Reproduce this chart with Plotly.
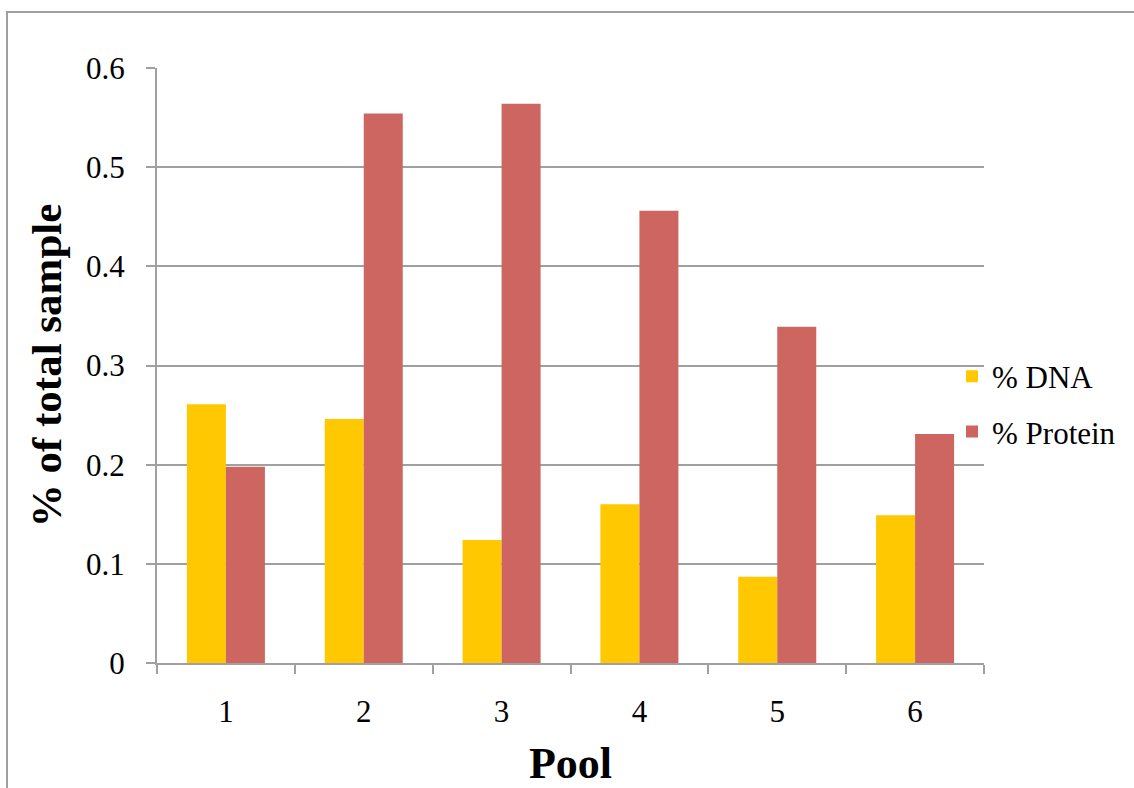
import plotly.graph_objects as go

pools = ["1", "2", "3", "4", "5", "6"]
dna = [0.261, 0.246, 0.124, 0.160, 0.087, 0.149]
protein = [0.198, 0.554, 0.564, 0.456, 0.339, 0.231]
y_ticks = [0, 0.1, 0.2, 0.3, 0.4, 0.5, 0.6]
y_tick_text = ["0", "0.1", "0.2", "0.3", "0.4", "0.5", "0.6"]

W, H = 1134, 788
L, R, T, B = 157, 150, 68, 125
pw, ph = W - L - R, H - T - B

serif = "Liberation Serif, Times New Roman, serif"
grid = "#a0a0a0"

fig = go.Figure()
fig.add_trace(go.Bar(x=pools, y=dna, name="% DNA", legendgroup="dna",
                     marker=dict(color="#FFC800", line_width=0)))
fig.add_trace(go.Bar(x=pools, y=protein, name="% Protein", legendgroup="protein",
                     marker=dict(color="#CD6660", line_width=0)))

# outer chart frame (extends past the right and bottom edges)
fig.add_shape(type="rect", xref="paper", yref="paper",
              x0=(7 - L) / pw, x1=(W + 10 - L) / pw,
              y0=(T + ph - (H + 10)) / ph, y1=(T + ph - 12) / ph,
              line=dict(color="#a0a0a0", width=2), fillcolor="rgba(0,0,0,0)", layer="below")

fig.update_layout(
    width=W, height=H,
    margin=dict(l=L, r=R, t=T, b=B, autoexpand=False),
    paper_bgcolor="white", plot_bgcolor="white",
    barmode="group", bargap=0.434, bargroupgap=0,
    font=dict(family=serif, color="black"),
    showlegend=True,
    legend=dict(x=(952 - L) / pw, y=(T + ph - 404) / ph, xanchor="left", yanchor="middle",
                font=dict(size=31, family=serif), itemsizing="constant",
                traceorder="grouped", tracegroupgap=12, bgcolor="rgba(0,0,0,0)"),
    xaxis=dict(
        automargin=False,
        showline=True, linecolor=grid, linewidth=2,
        ticks="outside", tickson="boundaries", ticklen=9, tickcolor=grid, tickwidth=2,
        tickfont=dict(size=31, family=serif),
        ticklabelstandoff=20,
        showgrid=False,
        title=dict(text="<b>Pool</b>", font=dict(size=44, family=serif), standoff=27),
    ),
    yaxis=dict(
        automargin=False,
        range=[0, 0.6], tickvals=y_ticks, ticktext=y_tick_text,
        showline=True, linecolor=grid, linewidth=2,
        ticks="outside", ticklen=9, tickcolor=grid, tickwidth=2,
        showgrid=True, gridcolor=grid, gridwidth=2,
        zeroline=False,
        tickfont=dict(size=31, family=serif),
        ticklabelstandoff=15,
        title=dict(text="<b>% of total sample</b>", font=dict(size=43, family=serif), standoff=11),
    ),
)

fig.write_html("out.html")
